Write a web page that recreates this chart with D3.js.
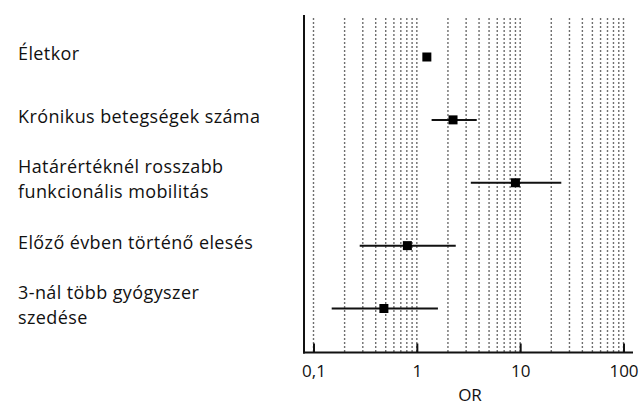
<!DOCTYPE html>
<html>
<head>
<meta charset="utf-8">
<script src="https://cdn.jsdelivr.net/npm/d3@7"></script>
<style>
  body { margin: 0; background: #fff; }
  text { font-family: "Open Sans", "Noto Sans", sans-serif; fill: #111; }
</style>
</head>
<body>
<script>
// forest plot data
var labels = [
    ["Életkor"],
    ["Krónikus betegségek száma"],
    ["Határértéknél rosszabb", "funkcionális mobilitás"],
    ["Előző évben történő elesés"],
    ["3-nál több gyógyszer", "szedése"]
];
var orValues = [1.25, 2.24, 9.0, 0.81, 0.48];
var ciLow = [1.2, 1.39, 3.33, 0.28, 0.15];
var ciHigh = [1.3, 3.8, 25, 2.38, 1.6];
var tickValues = [0.1, 1, 10, 100];
var tickLabels = ["0,1", "1", "10", "100"];

var width = 641;
var height = 405;

var svg = d3.select("body")
    .append("svg")
    .attr("width", width)
    .attr("height", height);

var xScale = d3.scaleLog()
    .domain([0.1, 100])
    .range([313.5, 623.5]);

var yScale = d3.scalePoint()
    .domain(d3.range(labels.length))
    .range([57, 308.5]);

var axisY = 352.5;
var gridTop = 18;

// minor + major gridlines
var gridValues = [];
[0.1, 1, 10].forEach(function (dec) {
    for (var k = 1; k <= 9; k++) gridValues.push(dec * k);
});
gridValues.push(100);

svg.append("g")
    .selectAll("line")
    .data(gridValues)
    .enter()
    .append("line")
    .attr("x1", d => xScale(d))
    .attr("x2", d => xScale(d))
    .attr("y1", gridTop)
    .attr("y2", axisY)
    .attr("stroke", "#6e6e6e")
    .attr("stroke-width", 1.4)
    .attr("stroke-dasharray", "2,2");

// axis
var xAxis = svg.append("g")
    .attr("transform", "translate(0," + axisY + ")")
    .call(d3.axisBottom(xScale)
        .tickValues(tickValues)
        .tickSize(0)
        .tickPadding(12)
        .tickFormat((d, i) => tickLabels[i]));

xAxis.select(".domain").remove();
xAxis.selectAll("text")
    .style("font-size", "17px")
    .style("font-family", "'Open Sans', sans-serif")
    .attr("fill", "#111");

xAxis.selectAll(".tick")
    .append("line")
    .attr("y1", 0)
    .attr("y2", -9)
    .attr("stroke", "#111")
    .attr("stroke-width", 2);

svg.append("line")
    .attr("x1", 303)
    .attr("x2", 633)
    .attr("y1", axisY)
    .attr("y2", axisY)
    .attr("stroke", "#111")
    .attr("stroke-width", 2);

svg.append("line")
    .attr("x1", 304)
    .attr("x2", 304)
    .attr("y1", 15)
    .attr("y2", axisY + 1)
    .attr("stroke", "#111")
    .attr("stroke-width", 2);

svg.append("text")
    .attr("x", 470)
    .attr("y", 401)
    .attr("text-anchor", "middle")
    .style("font-size", "17px")
    .text("OR");

// confidence intervals
svg.selectAll(".ci")
    .data(orValues)
    .enter()
    .append("line")
    .attr("class", "ci")
    .attr("x1", (d, i) => xScale(ciLow[i]))
    .attr("x2", (d, i) => xScale(ciHigh[i]))
    .attr("y1", (d, i) => yScale(i))
    .attr("y2", (d, i) => yScale(i))
    .attr("stroke", "#111")
    .attr("stroke-width", 2);

var box = 9;
svg.selectAll(".pt")
    .data(orValues)
    .enter()
    .append("rect")
    .attr("class", "pt")
    .attr("x", d => xScale(d) - box / 2)
    .attr("y", (d, i) => yScale(i) - box / 2)
    .attr("width", box)
    .attr("height", box)
    .attr("fill", "#000");

// row labels (wrapped ones as separate text lines)
var lineGap = 25;
labels.forEach(function (lines, i) {
    var base = lines.length > 1 ? yScale(i) - 10 : yScale(i) + 3;
    lines.forEach(function (t, j) {
        svg.append("text")
            .attr("class", "lbl")
            .attr("x", 18)
            .attr("y", base + j * lineGap)
            .style("font-size", "18px")
            .style("letter-spacing", "0.4px")
            .text(t);
    });
});
</script>
</body>
</html>
